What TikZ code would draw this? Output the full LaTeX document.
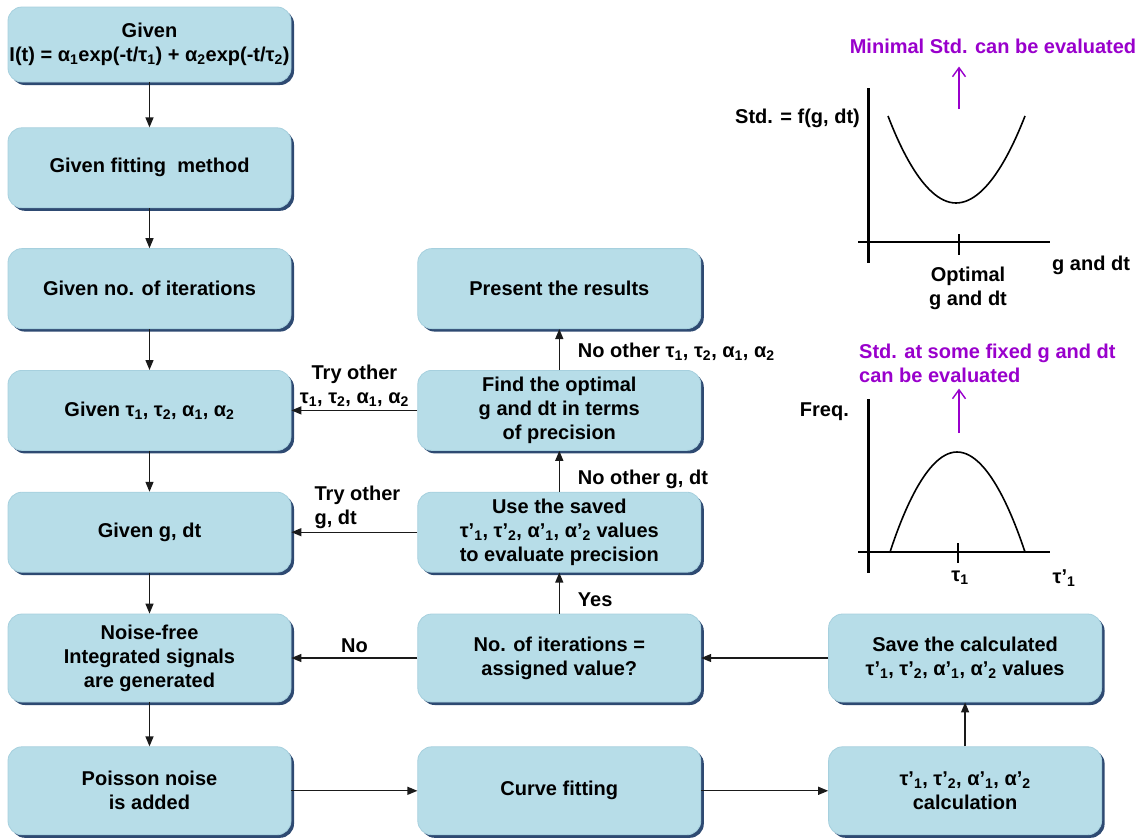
\documentclass[tikz,border=0pt]{standalone}
\usepackage{fontspec}
\setmainfont{Liberation Sans}
\usetikzlibrary{positioning, arrows.meta, calc, shadows}
\definecolor{boxFill}{HTML}{B7DDE8}
\definecolor{boxEdge}{HTML}{A6D0DE}
\definecolor{boxShadow}{HTML}{2E4A72}
\definecolor{noteColor}{HTML}{9900CC}
\definecolor{lineColor}{HTML}{1A1A1A}
\newcommand{\lblfont}{\bfseries\fontsize{20}{24}\selectfont}
\tikzset{
  stepbox/.style={
    draw=boxEdge, fill=boxFill, rounded corners=14pt,
    minimum width=283pt, minimum height=80pt, inner sep=1pt,
    font=\lblfont, text=black, line width=0.8pt, align=center,
    drop shadow={shadow xshift=3pt, shadow yshift=-3pt, fill=boxShadow, opacity=1},
  },
  flow/.style={
    -{Triangle[length=10pt, width=8pt]}, line width=1.3pt, color=lineColor,
  },
  flowlabel/.style={
    font=\lblfont, text=black, inner sep=2pt,
  },
  note/.style={
    font=\lblfont, text=noteColor, inner sep=2pt,
  },
  noteArrow/.style={
    -{Straight Barb[length=9pt, width=13pt]}, line width=1.4pt, color=noteColor,
  },
  yaxisline/.style={line width=3pt, color=black},
  xaxisline/.style={line width=1.8pt, color=black},
  curveline/.style={line width=1.6pt, color=black},
}

\begin{document}
\begin{tikzpicture}[x=1pt, y=-1pt]

  \useasboundingbox (0,0) rectangle (1144,838);

  % === Left column: signal generation ===
  \node[stepbox, minimum height=75pt] (given) at (149.5,44.5) {Given\\I(t) = α\textsubscript{1}exp(-t/τ\textsubscript{1}) + α\textsubscript{2}exp(-t/τ\textsubscript{2})};
  \node[stepbox, below=45pt of given] (fitmethod) {Given fitting~ method};
  \node[stepbox, below=40pt of fitmethod] (iters) {Given no. of iterations};
  \node[stepbox, below=41pt of iters] (taus) {Given τ\textsubscript{1}, τ\textsubscript{2}, α\textsubscript{1}, α\textsubscript{2}};
  \node[stepbox, below=41pt of taus] (gdt) {Given g, dt};
  \node[stepbox, below=41pt of gdt, minimum height=88pt] (noisefree) {Noise-free\\Integrated signals\\are generated};
  \node[stepbox, below=44pt of noisefree, minimum height=88pt] (poisson) {Poisson noise\\is added};

  % === Center column: evaluation ===
  \node[stepbox, right=126pt of iters] (present) {Present the results};
  \node[stepbox, right=126pt of taus] (findopt) {Find the optimal\\g and dt in terms\\of precision};
  \node[stepbox, right=126pt of gdt] (usesaved) {Use the saved\\τ’\textsubscript{1}, τ’\textsubscript{2}, α’\textsubscript{1}, α’\textsubscript{2} values\\to evaluate precision};
  \node[stepbox, right=126pt of noisefree, minimum height=88pt] (noiter) {No. of iterations =\\assigned value?};
  \node[stepbox, right=126pt of poisson, minimum height=88pt] (curvefit) {Curve fitting};

  % === Right column: fitted values ===
  \node[stepbox, right=127pt of noiter, minimum width=273pt, minimum height=88pt] (save) {Save the calculated\\τ’\textsubscript{1}, τ’\textsubscript{2}, α’\textsubscript{1}, α’\textsubscript{2} values};
  \node[stepbox, right=127pt of curvefit, minimum width=273pt, minimum height=88pt] (calc) {τ’\textsubscript{1}, τ’\textsubscript{2}, α’\textsubscript{1}, α’\textsubscript{2}\\calculation};

  % === Arrows: main pipeline ===
  \draw[flow] (given) -- (fitmethod);
  \draw[flow] (fitmethod) -- (iters);
  \draw[flow] (iters) -- (taus);
  \draw[flow] (taus) -- (gdt);
  \draw[flow] (gdt) -- (noisefree);
  \draw[flow] (noisefree) -- (poisson);
  \draw[flow] (poisson) -- (curvefit);
  \draw[flow] (curvefit) -- (calc);
  \draw[flow] (calc) -- (save);
  \draw[flow] (save) -- (noiter);

  % === Arrows: loops and decisions ===
  \draw[flow] (noiter) -- node[flowlabel, midway, above=3pt] {No} (noisefree);
  \draw[flow] (noiter) -- node[flowlabel, pos=0.33, right=16pt] {Yes} (usesaved);
  \draw[flow] (usesaved) -- node[flowlabel, pos=0.3, right=16pt] {No other g, dt} (findopt);
  \draw[flow] (usesaved) -- node[flowlabel, midway, above=1pt, align=left, xshift=3pt] {Try other\\g, dt} (gdt);
  \draw[flow] (findopt) -- node[flowlabel, midway, above=1pt, align=center] {Try other\\τ\textsubscript{1}, τ\textsubscript{2}, α\textsubscript{1}, α\textsubscript{2}} (taus);
  \draw[flow] (findopt) -- node[flowlabel, pos=0.45, right=16pt] {No other τ\textsubscript{1}, τ\textsubscript{2}, α\textsubscript{1}, α\textsubscript{2}} (present);

  % === Top graph: Std. versus g and dt ===
  \draw[yaxisline] (868,88) -- (868,263);
  \draw[xaxisline] (858,242) -- (1050,242);
  \draw[xaxisline] (959,234) -- (959,255);
  \draw[curveline] (888,116) parabola bend (956,203) (1025,116);
  \node[flowlabel, anchor=east] (stdlabel) at (862,118) {Std. = f(g, dt)};
  \node[flowlabel, anchor=west] (gdtaxis) at (1050,265) {g and dt};
  \node[flowlabel, align=center] (optimal) at (968,288) {Optimal\\g and dt};
  \node[note] (minstd) at (993,46) {Minimal Std. can be evaluated};
  \coordinate (minbase) at (959,109);
  \draw[noteArrow, shorten >=11pt] (minbase) -- (minbase |- minstd.south);

  % === Bottom graph: frequency of fitted tau ===
  \draw[yaxisline] (868,399) -- (868,573);
  \draw[xaxisline] (858,552) -- (1050,552);
  \draw[xaxisline] (958,543) -- (958,563);
  \draw[curveline] (890,552) parabola bend (957,452) (1025,552);
  \node[flowlabel, anchor=east] (freq) at (851,412) {Freq.};
  \node[flowlabel] (tauone) at (960,578) {τ\textsubscript{1}};
  \node[flowlabel] (tauprime) at (1064,578) {τ’\textsubscript{1}};
  \node[note, anchor=west, align=left] (fixedstd) at (857,363) {Std. at some fixed g and dt\\can be evaluated};
  \coordinate (peakbase) at (959,433);
  \draw[noteArrow, shorten >=4pt] (peakbase) -- (peakbase |- fixedstd.south);

\end{tikzpicture}
\end{document}
